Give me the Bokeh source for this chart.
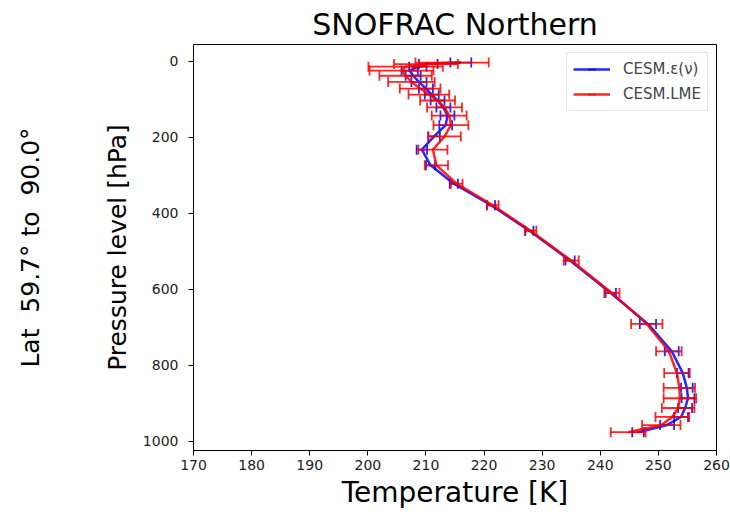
import math
from bokeh.plotting import figure
from bokeh.models import Range1d, FixedTicker, Title, Legend, LegendItem
from bokeh.embed import file_html
from bokeh.resources import INLINE

# Pressure levels [hPa]
lev = [3.64, 7.59, 14.36, 24.61, 38.27, 54.6, 72.01, 87.82, 103.32, 121.55,
       142.99, 168.23, 197.91, 232.83, 273.91, 322.24, 379.1, 445.99, 524.69,
       609.78, 691.39, 763.4, 820.86, 859.53, 887.02, 912.64, 936.2, 957.49, 976.33]

# CESM.eps(nu) temperature [K] and spread
t_eps = [216.0, 210.4, 208.6, 207.2, 207.8, 208.8, 210.0, 211.0, 212.0, 213.0,
         213.7, 213.4, 211.4, 209.3, 210.8, 214.8, 221.2, 227.8, 234.8,
         241.8, 248.2, 252.3, 254.2, 254.9, 255.1, 254.6, 253.9, 251.5, 246.5]
e_eps = [1.8, 1.6, 1.5, 1.4, 1.3, 1.3, 1.2, 1.2, 1.2, 1.2,
         1.2, 1.1, 1.0, 0.9, 0.8, 0.7, 0.7, 0.7, 0.8,
         0.9, 1.4, 1.2, 1.0, 1.0, 1.1, 1.2, 1.2, 1.2, 1.0]

# CESM.LME temperature [K] and spread
t_lme = [214.5, 210.0, 206.5, 205.8, 206.5, 207.5, 209.0, 210.5, 212.0, 213.2,
         214.0, 214.3, 213.2, 211.2, 211.8, 215.3, 221.5, 228.0, 235.0,
         242.0, 248.0, 251.8, 253.2, 253.6, 253.7, 253.4, 252.4, 250.5, 244.8]
e_lme = [6.3, 5.5, 6.4, 5.5, 4.5, 4.0, 3.5, 3.5, 3.0, 3.0,
         3.0, 3.0, 2.8, 2.5, 2.0, 1.0, 1.0, 1.0, 1.3,
         1.3, 2.7, 2.2, 2.2, 2.7, 2.8, 2.8, 2.9, 3.3, 3.0]

x_ticks = [170, 180, 190, 200, 210, 220, 230, 240, 250, 260]
y_ticks = [0, 200, 400, 600, 800, 1000]

FONT = "DejaVu Sans"

p = figure(width=730, height=512, output_backend="svg", toolbar_location=None,
           x_range=Range1d(170, 260), y_range=Range1d(1024.5, -44),
           min_border_left=192, min_border_right=14, min_border_top=44,
           min_border_bottom=62, background_fill_color="white")

p.title.text = "SNOFRAC Northern"
p.title.align = "center"
p.title.text_font = FONT
p.title.text_font_size = "30px"
p.title.text_font_style = "normal"
p.title.text_color = "black"
p.title.standoff = 6

p.xgrid.visible = False
p.ygrid.visible = False
p.outline_line_color = "black"
p.outline_line_width = 1

for ax in (p.xaxis[0], p.yaxis[0]):
    ax.major_label_text_font = FONT
    ax.major_label_text_font_size = "14px"
    ax.major_label_text_color = "#222222"
    ax.axis_label_text_font = FONT
    ax.axis_label_text_font_style = "normal"
    ax.axis_label_text_color = "black"
    ax.major_tick_out = 5
    ax.major_tick_in = 0
    ax.minor_tick_line_color = None
    ax.axis_line_color = "black"
    ax.major_tick_line_color = "black"

p.xaxis.ticker = FixedTicker(ticks=x_ticks)
p.yaxis.ticker = FixedTicker(ticks=y_ticks)
p.xaxis.axis_label = "Temperature [K]"
p.yaxis.axis_label = "Pressure level [hPa]"
p.xaxis.axis_label_text_font_size = "28px"
p.yaxis.axis_label_text_font_size = "25px"
p.xaxis.major_label_standoff = 4
p.xaxis.axis_label_standoff = 3
p.yaxis.major_label_standoff = 10
p.yaxis.axis_label_standoff = 8

# spacer between the y axis and the side caption
spacer = Title(text="\u00a0", text_font=FONT, text_font_size="1px", standoff=34)
p.add_layout(spacer, "left")

lat_title = Title(text="Lat\u00a0 59.7° to\u00a0 90.0°", align="center",
                  vertical_align="top", text_font=FONT, text_font_size="25px",
                  text_font_style="normal", text_color="black", standoff=31)
p.add_layout(lat_title, "left")

items = []
for t, e, col, name in ((t_eps, e_eps, "#0000ff", "CESM.ε(ν)"),
                        (t_lme, e_lme, "#ff0000", "CESM.LME")):
    lo = [a - b for a, b in zip(t, e)]
    hi = [a + b for a, b in zip(t, e)]
    p.segment(x0=lo, x1=hi, y0=lev, y1=lev, line_color=col, line_width=1.8, line_alpha=0.85)
    cap_lo = p.scatter(x=lo, y=lev, marker="dash", angle=math.pi / 2, size=10,
                       line_color=col, line_width=1.8, line_alpha=0.85)
    p.scatter(x=hi, y=lev, marker="dash", angle=math.pi / 2, size=10,
              line_color=col, line_width=1.8, line_alpha=0.85)
    ln = p.line(x=t, y=lev, line_color=col, line_width=2.5, line_alpha=0.85)
    items.append(LegendItem(label=name, renderers=[ln, cap_lo]))

legend = Legend(items=items, location="top_right", label_text_font=FONT,
                label_text_font_size="15px", glyph_width=37, glyph_height=20,
                label_standoff=13, spacing=5, padding=6, margin=8,
                border_line_color="#cccccc", border_line_width=1,
                background_fill_alpha=0.9)
p.add_layout(legend)

open("out.html", "w").write(file_html(p, INLINE))
